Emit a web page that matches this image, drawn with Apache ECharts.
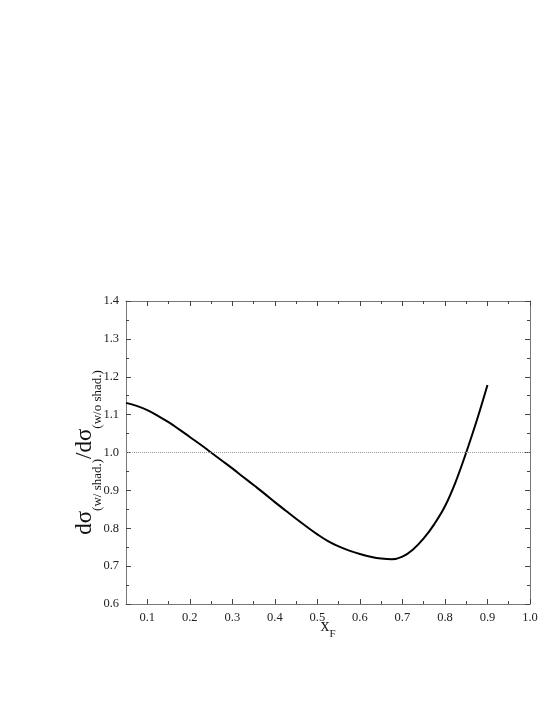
<!DOCTYPE html>
<html>
<head>
<meta charset="utf-8">
<script src="https://cdn.jsdelivr.net/npm/echarts@6/dist/echarts.min.js"></script>
<style>
html,body{margin:0;padding:0;background:#fff;}
#chart{width:545px;height:705px;}
</style>
</head>
<body>
<div id="chart"></div>
<script>
// ---- data ----
var xF = [0.05,0.075,0.1,0.125,0.15,0.175,0.2,0.225,0.25,0.275,0.3,0.325,0.35,0.375,0.4,0.425,0.45,0.475,0.5,0.525,0.55,0.575,0.6,0.625,0.65,0.675,0.7,0.725,0.75,0.775,0.8,0.825,0.85,0.875,0.9];
var ratio = [1.131,1.123,1.112,1.097,1.080,1.061,1.041,1.021,1.000,0.979,0.958,0.936,0.914,0.892,0.869,0.847,0.825,0.804,0.784,0.766,0.752,0.741,0.732,0.725,0.720,0.718,0.725,0.744,0.773,0.811,0.858,0.922,1.000,1.085,1.178];
var xMajorTicks = [0.1,0.2,0.3,0.4,0.5,0.6,0.7,0.8,0.9,1.0];
var xMinorTicks = [0.15,0.25,0.35,0.45,0.55,0.65,0.75,0.85,0.95];
var refLevel = 1.0;

var font = 'Liberation Serif';
var frameColor = '#777';
var tickColor = '#444';

function xAx(pos, vals, len, labels, line) {
  return {
    type: 'value', position: pos, min: 0.05, max: 1.0,
    axisLine: {show: line, onZero: false, lineStyle: {color: frameColor, width: 1}},
    axisTick: {show: true, inside: true, length: len, customValues: vals, lineStyle: {color: tickColor, width: 1}},
    axisLabel: labels ? {show: true, customValues: vals, fontFamily: font, fontSize: 12.5, color: '#222', margin: 7,
      formatter: function (v) { return v.toFixed(1); }} : {show: false},
    splitLine: {show: false}
  };
}
function yAx(pos, labels) {
  return {
    type: 'value', position: pos, min: 0.6, max: 1.4, interval: 0.1,
    axisLine: {show: true, onZero: false, lineStyle: {color: frameColor, width: 1}},
    axisTick: {show: true, inside: true, length: 5, lineStyle: {color: tickColor, width: 1}},
    minorTick: {show: true, splitNumber: 2, length: 3, lineStyle: {color: tickColor, width: 1}},
    axisLabel: labels ? {show: true, fontFamily: font, fontSize: 12.5, color: '#222', margin: 7,
      formatter: function (v) { return v.toFixed(1); }} : {show: false},
    splitLine: {show: false}
  };
}

var xAxes = [
  xAx('bottom', xMajorTicks, 5, true, true),
  xAx('bottom', xMinorTicks, 3, false, false),
  xAx('top', xMajorTicks, 5, false, true),
  xAx('top', xMinorTicks, 3, false, false)
];
xAxes[0].name = '{m|x}{s|F}';
xAxes[0].nameLocation = 'middle';
xAxes[0].nameMoveOverlap = false;
xAxes[0].nameGap = 13;
xAxes[0].nameTextStyle = {
  rich: {
    m: {fontFamily: font, fontSize: 18, color: '#222', padding: [0, 0, 5, 0], verticalAlign: 'bottom'},
    s: {fontFamily: font, fontSize: 11, color: '#222', verticalAlign: 'bottom'}
  }
};

var yAxes = [yAx('left', true), yAx('right', false)];
yAxes[0].name = '{m|dσ}{s|(w/ shad.)}{m|/dσ}{s|(w/o shad.)}';
yAxes[0].nameLocation = 'middle';
yAxes[0].nameRotate = 90;
yAxes[0].nameMoveOverlap = false;
yAxes[0].nameGap = 22;
yAxes[0].nameTextStyle = {
  rich: {
    m: {fontFamily: font, fontSize: 23, color: '#111', padding: [0, 0, 8, 0], verticalAlign: 'bottom'},
    s: {fontFamily: font, fontSize: 13, color: '#111', verticalAlign: 'bottom'}
  }
};

var chart = echarts.init(document.getElementById('chart'), null, {renderer: 'canvas'});
chart.setOption({
  animation: false,
  backgroundColor: '#fff',
  grid: {left: 126, right: 15, top: 301, bottom: 101, containLabel: false},
  xAxis: xAxes,
  yAxis: yAxes,
  series: [{
    type: 'line',
    xAxisIndex: 0, yAxisIndex: 0,
    data: xF.map(function (x, i) { return [x, ratio[i]]; }),
    smooth: 0.4,
    showSymbol: false,
    lineStyle: {color: '#000', width: 2},
    markLine: {
      silent: true, symbol: 'none', label: {show: false},
      lineStyle: {color: '#999', type: 'dotted', width: 1},
      data: [{yAxis: refLevel}]
    },
    z: 3
  }]
});
</script>
</body>
</html>
